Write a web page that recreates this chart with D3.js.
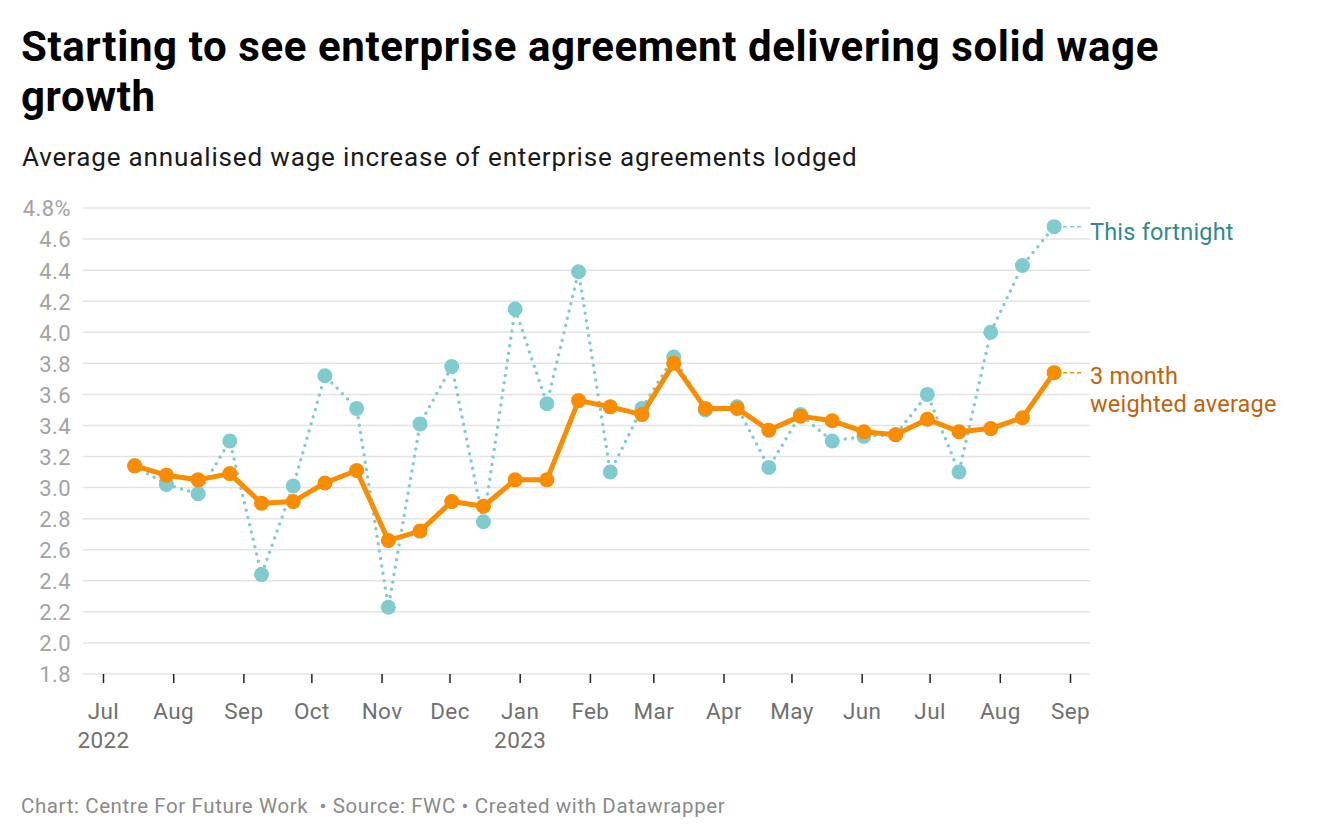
<!DOCTYPE html>
<html>
<head>
<meta charset="utf-8">
<script src="https://cdn.jsdelivr.net/npm/d3@7"></script>
<style>
  html, body { margin: 0; padding: 0; background: #fff; }
  svg { display: block; font-family: Roboto, "Noto Sans", sans-serif; }
</style>
</head>
<body>
<svg id="chart" width="1320" height="840"></svg>
<script>
// ---- data ----
const dates = [
  "2022-07-15","2022-07-29","2022-08-12","2022-08-26","2022-09-09","2022-09-23",
  "2022-10-07","2022-10-21","2022-11-04","2022-11-18","2022-12-02","2022-12-16",
  "2022-12-30","2023-01-13","2023-01-27","2023-02-10","2023-02-24","2023-03-10",
  "2023-03-24","2023-04-07","2023-04-21","2023-05-05","2023-05-19","2023-06-02",
  "2023-06-16","2023-06-30","2023-07-14","2023-07-28","2023-08-11","2023-08-25"
];
const fortnight = [
  3.14, 3.02, 2.96, 3.30, 2.44, 3.01, 3.72, 3.51, 2.23, 3.41,
  3.78, 2.78, 4.15, 3.54, 4.39, 3.10, 3.51, 3.84, 3.50, 3.52,
  3.13, 3.47, 3.30, 3.33, 3.34, 3.60, 3.10, 4.00, 4.43, 4.68
];
const weighted = [
  3.14, 3.08, 3.05, 3.09, 2.90, 2.91, 3.03, 3.11, 2.66, 2.72,
  2.91, 2.88, 3.05, 3.05, 3.56, 3.52, 3.47, 3.80, 3.51, 3.51,
  3.37, 3.46, 3.43, 3.36, 3.34, 3.44, 3.36, 3.38, 3.45, 3.74
];
const yTicks = [1.8, 2.0, 2.2, 2.4, 2.6, 2.8, 3.0, 3.2, 3.4, 3.6, 3.8, 4.0, 4.2, 4.4, 4.6, 4.8];
const monthTicks = [
  "2022-07-01","2022-08-01","2022-09-01","2022-10-01","2022-11-01","2022-12-01",
  "2023-01-01","2023-02-01","2023-03-01","2023-04-01","2023-05-01","2023-06-01",
  "2023-07-01","2023-08-01","2023-09-01"
];
const monthLabels = ["Jul","Aug","Sep","Oct","Nov","Dec","Jan","Feb","Mar","Apr","May","Jun","Jul","Aug","Sep"];
const yearLabels = ["2022","","","","","","2023","","","","","","","",""];
const seriesNames = ["This fortnight", "3 month\nweighted average"];

const titleLines = ["Starting to see enterprise agreement delivering solid wage", "growth"];
const subtitle = "Average annualised wage increase of enterprise agreements lodged";
const footer = "Chart: Centre For Future Work  \u2022 Source: FWC \u2022 Created with Datawrapper";

// ---- setup ----
const parse = d3.timeParse("%Y-%m-%d");
const svg = d3.select("#chart");

const x = d3.scaleTime()
  .domain([parse("2022-07-01"), parse("2023-09-01")])
  .range([103, 1070]);
const y = d3.scaleLinear().domain([1.8, 4.8]).range([674, 208]);

const teal = "#7fcbcd";
const tealText = "#33898b";
const orange = "#fa8c00";
const orangeText = "#c4620a";

// title (one text, two lines)
const tt = svg.append("text").attr("x", 21).attr("y", 61)
  .attr("font-size", 42).attr("letter-spacing", 0.6).attr("font-weight", 700).attr("fill", "#000");
titleLines.forEach((s, i) => {
  tt.append("tspan").attr("x", 21).attr("y", 61 + i * 50).text(s);
});
svg.append("text").attr("x", 22).attr("y", 166)
  .attr("font-size", 26).attr("letter-spacing", 0.85).attr("fill", "#1a1a1a")
  .text(subtitle);

// gridlines
svg.append("g").selectAll("line").data(yTicks).join("line")
  .attr("x1", 83).attr("x2", 1090)
  .attr("y1", d => y(d)).attr("y2", d => y(d))
  .attr("stroke", "#e4e4e4").attr("stroke-width", 1.5);

// y axis labels
const yAxis = d3.axisLeft(y).tickValues(yTicks).tickSize(0)
  .tickFormat((d, i) => d.toFixed(1) + (i === yTicks.length - 1 ? "%" : ""));
const gy = svg.append("g").attr("transform", "translate(71,0)").call(yAxis);
gy.select(".domain").remove();
gy.selectAll("text").attr("font-size", 22).attr("letter-spacing", 0.4).attr("fill", "#a3a3a3")
  .attr("font-family", "Roboto, sans-serif").attr("x", 0).attr("dy", "0.36em");

// x axis
const xAxis = d3.axisBottom(x).tickValues(monthTicks.map(parse)).tickSize(9)
  .tickFormat((d, i) => monthLabels[i]);
const gx = svg.append("g").attr("transform", "translate(0,674)").call(xAxis);
gx.select(".domain").remove();
gx.selectAll(".tick line").attr("stroke", "#222").attr("stroke-width", 1.5);
gx.selectAll(".tick text").each(function(d, i) {
  const t = d3.select(this);
  t.text(null).attr("y", 0).attr("dy", null)
    .attr("font-size", 22.5).attr("letter-spacing", 0.4).attr("fill", "#707070")
    .attr("font-family", "Roboto, sans-serif");
  t.append("tspan").attr("x", 0).attr("y", 45).text(monthLabels[i]);
  if (yearLabels[i]) t.append("tspan").attr("x", 0).attr("y", 74).text(yearLabels[i]);
});

// data prep
const fData = dates.map((d, i) => ({ date: parse(d), v: fortnight[i] }));
const wData = dates.map((d, i) => ({ date: parse(d), v: weighted[i] }));
const line = d3.line().x(d => x(d.date)).y(d => y(d.v));

// fortnight series (dotted)
svg.append("path").datum(fData).attr("d", line)
  .attr("fill", "none").attr("stroke", teal).attr("stroke-width", 3.5)
  .attr("stroke-linecap", "round").attr("stroke-dasharray", "0,7.5");
svg.append("g").selectAll("circle").data(fData).join("circle")
  .attr("cx", d => x(d.date)).attr("cy", d => y(d.v)).attr("r", 7.5)
  .attr("fill", teal);

// weighted series
svg.append("path").datum(wData).attr("d", line)
  .attr("fill", "none").attr("stroke", orange).attr("stroke-width", 5)
  .attr("stroke-linejoin", "round");
svg.append("g").selectAll("circle").data(wData).join("circle")
  .attr("cx", d => x(d.date)).attr("cy", d => y(d.v)).attr("r", 7.5)
  .attr("fill", orange);

// end labels
const lastF = fData[fData.length - 1];
const lastW = wData[wData.length - 1];
svg.append("line").attr("x1", x(lastF.date) + 9).attr("x2", 1084)
  .attr("y1", y(lastF.v)).attr("y2", y(lastF.v))
  .attr("stroke", teal).attr("stroke-width", 1.5).attr("stroke-dasharray", "4,3");
svg.append("text").attr("x", 1090).attr("y", y(lastF.v) + 13)
  .attr("font-size", 23.5).attr("letter-spacing", 0.2).attr("fill", tealText).text(seriesNames[0]);

svg.append("line").attr("x1", x(lastW.date) + 9).attr("x2", 1084)
  .attr("y1", y(lastW.v)).attr("y2", y(lastW.v))
  .attr("stroke", orange).attr("stroke-width", 1.5).attr("stroke-dasharray", "4,3");
const wl = svg.append("text").attr("x", 1090).attr("y", y(lastW.v) + 11)
  .attr("font-size", 23.5).attr("letter-spacing", 0.2).attr("fill", orangeText);
seriesNames[1].split("\n").forEach((s, i) => {
  wl.append("tspan").attr("x", 1090).attr("dy", i === 0 ? 0 : 28).text(s);
});

// footer
svg.append("text").attr("x", 21).attr("y", 813)
  .attr("font-size", 20.5).attr("letter-spacing", 0.6).attr("fill", "#8a8a8a")
  .style("white-space", "pre").text(footer);
</script>
</body>
</html>
